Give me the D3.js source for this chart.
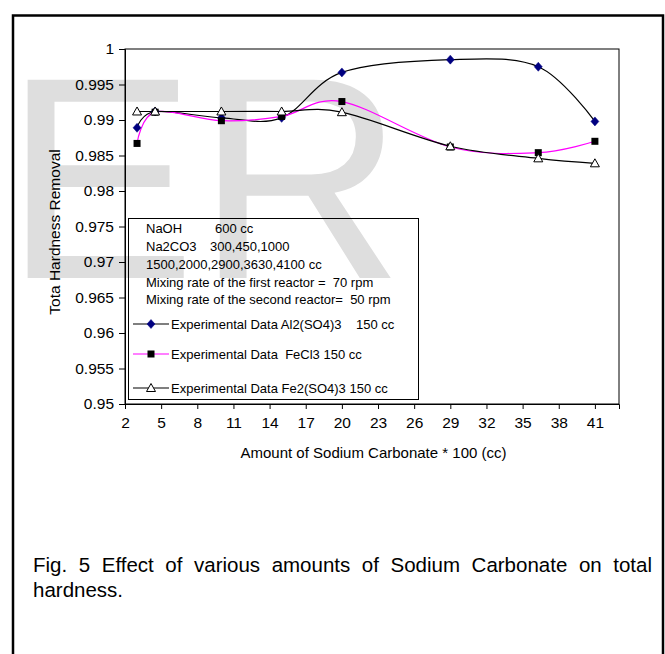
<!DOCTYPE html>
<html>
<head>
<meta charset="utf-8">
<script src="https://cdn.jsdelivr.net/npm/d3@7"></script>
<style>
  html, body { margin: 0; padding: 0; background: #fff; }
  svg { display: block; font-family: "Liberation Sans", Arial, sans-serif; }
  .pre { white-space: pre; }
</style>
</head>
<body>
<div id="chart"></div>
<script>
// values
const xValues = [3, 4.5, 10, 15, 20, 29, 36.3, 41];
const al2so4 = [0.9889, 0.9912, 0.9903, 0.9903, 0.9967, 0.9985, 0.9975, 0.9898];
const fecl3 = [0.9867, 0.9911, 0.9899, 0.9905, 0.9926, 0.9862, 0.9854, 0.9870];
const fe2so4 = [0.9912, 0.9912, 0.9912, 0.9912, 0.9911, 0.9863, 0.9846, 0.9839];

const xTicks = [2, 5, 8, 11, 14, 17, 20, 23, 26, 29, 32, 35, 38, 41];
const yTicks = [0.95, 0.955, 0.96, 0.965, 0.97, 0.975, 0.98, 0.985, 0.99, 0.995, 1];

const legendNotes = [
  ['NaOH', '600 cc'],
  ['Na2CO3', '300,450,1000'],
  ['1500,2000,2900,3630,4100 cc', ''],
  ['Mixing rate of the first reactor =  70 rpm', ''],
  ['Mixing rate of the second reactor=  50 rpm', '']
];
const seriesNames = ['Experimental Data Al2(SO4)3    150 cc', 'Experimental Data  FeCl3 150 cc', 'Experimental Data Fe2(SO4)3 150 cc'];
const captionLines = ['Fig. 5 Effect of various amounts of Sodium Carbonate on total', 'hardness.'];

const width = 665, height = 654;
const plot = {left: 125, right: 619, top: 49, bottom: 404};

const svg = d3.select('#chart').append('svg')
  .attr('width', width)
  .attr('height', height);

// watermark behind everything
svg.append('text')
  .attr('x', 4)
  .attr('y', 278)
  .attr('font-size', 288)
  .attr('fill', '#dedede')
  .text('ER');

// outer frame
svg.append('rect')
  .attr('x', 13).attr('y', 15.5)
  .attr('width', 650).attr('height', 700)
  .attr('fill', 'none')
  .attr('stroke', '#000')
  .attr('stroke-width', 2.5);

const x = d3.scaleLinear().domain([2, 43]).range([plot.left, plot.right]);
const y = d3.scaleLinear().domain([0.95, 1]).range([plot.bottom, plot.top]);

// plot box
svg.append('rect')
  .attr('x', plot.left).attr('y', plot.top)
  .attr('width', plot.right - plot.left).attr('height', plot.bottom - plot.top)
  .attr('fill', 'none').attr('stroke', '#000').attr('stroke-width', 1);

const yAxis = svg.append('g')
  .attr('transform', `translate(${plot.left},0)`)
  .call(d3.axisLeft(y).tickValues(yTicks).tickSize(6).tickPadding(5)
    .tickFormat(d => String(+d.toFixed(3))));
const xAxis = svg.append('g')
  .attr('transform', `translate(0,${plot.bottom})`)
  .call(d3.axisBottom(x).tickValues(xTicks).tickSize(5).tickPadding(8)
    .tickFormat(d3.format('d')));
[xAxis, yAxis].forEach(a => {
  a.select('.domain').attr('stroke', '#000');
  a.selectAll('.tick line').attr('stroke', '#000');
  a.selectAll('.tick text')
    .attr('font-size', 15.5)
    .attr('font-family', '"Liberation Sans", Arial, sans-serif')
    .attr('fill', '#000');
});

// axis titles
svg.append('text')
  .attr('x', (plot.left + 612) / 2 + 5)
  .attr('y', 458)
  .attr('text-anchor', 'middle')
  .attr('font-size', 15)
  .text('Amount of Sodium Carbonate * 100 (cc)');
svg.append('text')
  .attr('transform', 'translate(60,232) rotate(-90)')
  .attr('text-anchor', 'middle')
  .attr('font-size', 15.5)
  .text('Tota Hardness Removal');

// series (Excel-style smoothed lines)
const line = d3.line()
  .x(d => x(d[0]))
  .y(d => y(d[1]))
  .curve(d3.curveCardinal.tension(0));

const series = [
  {values: al2so4, stroke: '#000', marker: 'diamond'},
  {values: fecl3, stroke: '#ff00ff', marker: 'square'},
  {values: fe2so4, stroke: '#000', marker: 'triangle'}
];

function drawMarker(g, type, cx, cy) {
  if (type === 'diamond') {
    g.append('path')
      .attr('d', `M${cx},${cy - 4.5}L${cx + 4},${cy}L${cx},${cy + 4.5}L${cx - 4},${cy}Z`)
      .attr('fill', '#000080').attr('stroke', '#000080').attr('stroke-width', 0.5);
  } else if (type === 'square') {
    g.append('rect')
      .attr('x', cx - 3.5).attr('y', cy - 3.5)
      .attr('width', 7).attr('height', 7)
      .attr('fill', '#000');
  } else {
    g.append('path')
      .attr('d', `M${cx},${cy - 4.5}L${cx + 4.5},${cy + 3.5}L${cx - 4.5},${cy + 3.5}Z`)
      .attr('fill', '#fff').attr('stroke', '#000').attr('stroke-width', 1);
  }
}

series.forEach(s => {
  const pts = xValues.map((xv, i) => [xv, s.values[i]]);
  svg.append('path')
    .datum(pts)
    .attr('d', line)
    .attr('fill', 'none')
    .attr('stroke', s.stroke)
    .attr('stroke-width', 1.2);
});
series.forEach(s => {
  const g = svg.append('g');
  xValues.forEach((xv, i) => drawMarker(g, s.marker, x(xv), y(s.values[i])));
});

// legend
const legend = svg.append('g');
legend.append('rect')
  .attr('x', 128.5).attr('y', 218.5)
  .attr('width', 290).attr('height', 181)
  .attr('fill', 'none').attr('stroke', '#000').attr('stroke-width', 1);

const noteRows = [233, 251, 268.5, 286.5, 304];
legendNotes.forEach((n, i) => {
  legend.append('text')
    .attr('x', 146).attr('y', noteRows[i])
    .attr('font-size', 13)
    .attr('class', 'pre')
    .text(n[0]);
  if (n[1]) {
    legend.append('text')
      .attr('x', i === 0 ? 215 : 210).attr('y', noteRows[i])
      .attr('font-size', 13)
      .text(n[1]);
  }
});

const entryRows = [324, 354, 388];
series.forEach((s, i) => {
  const cy = entryRows[i];
  legend.append('line')
    .attr('x1', 133).attr('x2', 169)
    .attr('y1', cy).attr('y2', cy)
    .attr('stroke', s.stroke).attr('stroke-width', 1.2);
  drawMarker(legend, s.marker, 151, cy);
  legend.append('text')
    .attr('x', 171).attr('y', cy + 4.5)
    .attr('font-size', 13)
    .attr('class', 'pre')
    .text(seriesNames[i]);
});

// caption, first line justified
const capLeft = 33, capRight = 652, capSize = 20.5;
const words = captionLines[0].split(' ');
const measure = svg.append('text').attr('font-size', capSize);
const widths = words.map(w => { measure.text(w); return measure.node().getComputedTextLength(); });
measure.remove();
const gap = (capRight - capLeft - d3.sum(widths)) / (words.length - 1);
let cx = capLeft;
words.forEach((w, i) => {
  svg.append('text')
    .attr('x', cx).attr('y', 572)
    .attr('font-size', capSize)
    .text(w);
  cx += widths[i] + gap;
});
svg.append('text')
  .attr('x', capLeft).attr('y', 597)
  .attr('font-size', capSize)
  .text(captionLines[1]);
</script>
</body>
</html>
